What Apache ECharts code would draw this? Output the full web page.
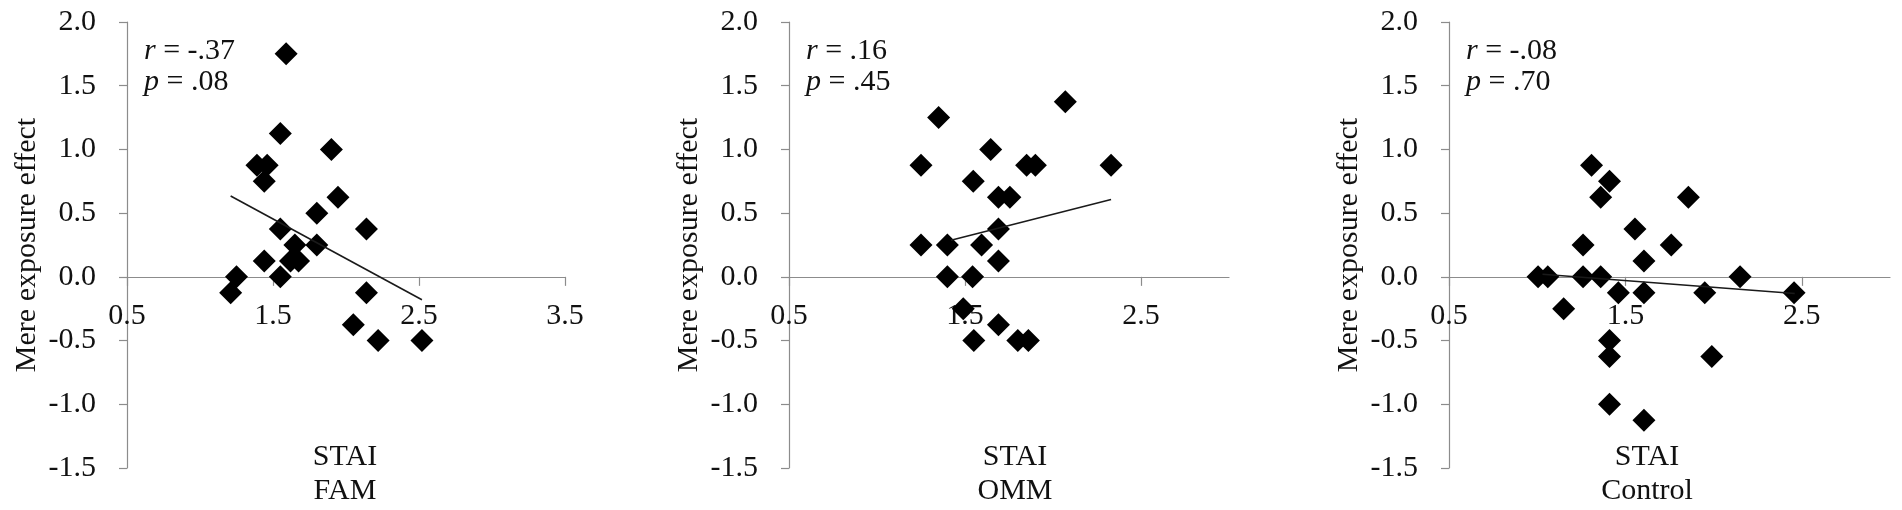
<!DOCTYPE html>
<html>
<head>
<meta charset="utf-8">
<script src="https://cdn.jsdelivr.net/npm/echarts@6/dist/echarts.min.js"></script>
<style>
html,body{margin:0;padding:0;background:#fff;}
#c{width:1902px;height:510px;}
</style>
</head>
<body>
<div id="c"></div>
<script>
// ---- data ----
const yTickValues = [-1.5, -1.0, -0.5, 0.0, 0.5, 1.0, 1.5, 2.0];
const xTicksFAM = [0.5, 1.5, 2.5, 3.5];
const xTicksOther = [0.5, 1.5, 2.5];

const famX = [1.59, 1.55, 1.90, 1.39, 1.46, 1.44, 1.945, 1.80, 2.14, 1.55, 1.65, 1.80, 1.44, 1.62, 1.675, 1.55, 1.25, 1.21, 2.14, 2.05, 2.22, 2.52];
const famY = [1.75, 1.125, 1.0, 0.875, 0.875, 0.75, 0.625, 0.5, 0.375, 0.375, 0.25, 0.25, 0.125, 0.125, 0.125, 0.0, 0.0, -0.125, -0.125, -0.375, -0.5, -0.5];
const famTrendX = [1.21, 2.52];
const famTrendY = [0.635, -0.18];

const ommX = [1.35, 1.25, 1.646, 1.547, 1.85, 1.90, 1.69, 1.755, 1.69, 1.25, 1.40, 1.594, 1.69, 1.40, 1.543, 1.49, 1.69, 1.55, 1.80, 1.86, 2.07, 2.33];
const ommY = [1.25, 0.875, 1.0, 0.75, 0.875, 0.875, 0.625, 0.625, 0.375, 0.25, 0.25, 0.25, 0.125, 0.0, 0.0, -0.25, -0.375, -0.5, -0.5, -0.5, 1.375, 0.875];
const ommTrendX = [1.42, 2.33];
const ommTrendY = [0.288, 0.607];

const ctlX = [1.308, 1.41, 1.36, 1.857, 1.554, 1.26, 1.76, 1.605, 1.005, 1.06, 1.26, 1.36, 1.46, 1.605, 1.15, 1.41, 1.41, 1.41, 1.605, 2.15, 1.95, 2.456, 1.99];
const ctlY = [0.875, 0.75, 0.625, 0.625, 0.375, 0.25, 0.25, 0.125, 0.0, 0.0, 0.0, 0.0, -0.125, -0.125, -0.25, -0.5, -0.625, -1.0, -1.125, 0.0, -0.125, -0.125, -0.625];
const ctlTrendX = [1.03, 2.46];
const ctlTrendY = [0.02, -0.13];

const panels = [
  {x: famX, y: famY, tx: famTrendX, ty: famTrendY, xmax: 3.5, ticks: xTicksFAM, r: '-.37', p: '.08', group: 'FAM'},
  {x: ommX, y: ommY, tx: ommTrendX, ty: ommTrendY, xmax: 3.0, ticks: xTicksOther, r: '.16', p: '.45', group: 'OMM'},
  {x: ctlX, y: ctlY, tx: ctlTrendX, ty: ctlTrendY, xmax: 3.0, ticks: xTicksOther, r: '-.08', p: '.70', group: 'Control'}
];

// ---- layout ----
const FONT = '"Liberation Serif", "Times New Roman", serif';
const FS = 30;
const Y_MIN = -1.5, Y_MAX = 2.0;
const gridBoxes = [
  {left: 127, top: 22, width: 438, height: 446},
  {left: 789, top: 22, width: 440, height: 446},
  {left: 1449, top: 22, width: 441, height: 446}
];
const groupLabelX = [345, 1015, 1647];
const AXIS_COLOR = '#8c8c8c';
const TEXT_COLOR = '#111';

const grids = [], xAxes = [], yAxes = [], series = [], graphics = [];
panels.forEach((pn, i) => {
  const g = gridBoxes[i];
  // distance from the grid bottom up to the value-0 line (layout offset for the x axis)
  const zeroOffset = -g.height * (0 - Y_MIN) / (Y_MAX - Y_MIN);
  grids.push(Object.assign({containLabel: false, outerBoundsMode: 'none'}, g));
  xAxes.push({
    type: 'value', gridIndex: i, min: 0.5, max: pn.xmax, interval: 0.5,
    position: 'bottom', offset: zeroOffset,
    axisLine: {onZero: false, lineStyle: {color: AXIS_COLOR, width: 1.2}},
    axisTick: {show: true, inside: false, length: 9, customValues: pn.ticks, lineStyle: {color: AXIS_COLOR, width: 1.2}},
    axisLabel: {customValues: pn.ticks, margin: 24, fontFamily: FONT, fontSize: FS, color: TEXT_COLOR,
      formatter: v => v.toFixed(1), hideOverlap: false, showMinLabel: true, showMaxLabel: true},
    splitLine: {show: false}
  });
  yAxes.push({
    type: 'value', gridIndex: i, min: Y_MIN, max: Y_MAX, interval: 0.5,
    name: 'Mere exposure effect', nameLocation: 'middle', nameGap: 85, nameRotate: 90,
    nameTextStyle: {fontFamily: FONT, fontSize: FS, color: TEXT_COLOR},
    axisLine: {show: true, onZero: false, lineStyle: {color: AXIS_COLOR, width: 1.2}},
    axisTick: {show: true, length: 8, customValues: yTickValues, lineStyle: {color: AXIS_COLOR, width: 1.2}},
    axisLabel: {customValues: yTickValues, margin: 31, fontFamily: FONT, fontSize: FS, color: TEXT_COLOR,
      formatter: v => v.toFixed(1), hideOverlap: false, showMinLabel: true, showMaxLabel: true},
    splitLine: {show: false}
  });
  series.push({
    type: 'scatter', xAxisIndex: i, yAxisIndex: i, symbol: 'diamond', symbolSize: 23,
    itemStyle: {color: '#000', opacity: 1}, z: 3, silent: true,
    data: pn.x.map((v, k) => [v, pn.y[k]])
  });
  series.push({
    type: 'line', xAxisIndex: i, yAxisIndex: i, showSymbol: false, symbol: 'none',
    lineStyle: {color: '#1a1a1a', width: 1.6}, z: 4, silent: true,
    data: pn.tx.map((v, k) => [v, pn.ty[k]])
  });
  graphics.push({
    type: 'text', left: g.left + 17, top: 36,
    style: {
      text: '{i|r} = ' + pn.r + '\n{i|p} = ' + pn.p,
      font: FS + 'px ' + FONT, fill: TEXT_COLOR, lineHeight: 31,
      rich: {i: {fontStyle: 'italic', fontFamily: FONT, fontSize: FS, fill: TEXT_COLOR, lineHeight: 31}}
    }
  });
  graphics.push({
    type: 'text', x: groupLabelX[i], y: 440,
    style: {
      text: 'STAI\n' + pn.group, align: 'center', verticalAlign: 'top',
      font: FS + 'px ' + FONT, fill: TEXT_COLOR, lineHeight: 34
    }
  });
});

const chart = echarts.init(document.getElementById('c'), null, {renderer: 'canvas'});
chart.setOption({
  animation: false,
  backgroundColor: '#ffffff',
  grid: grids, xAxis: xAxes, yAxis: yAxes, series: series,
  graphic: graphics
});
</script>
</body>
</html>
